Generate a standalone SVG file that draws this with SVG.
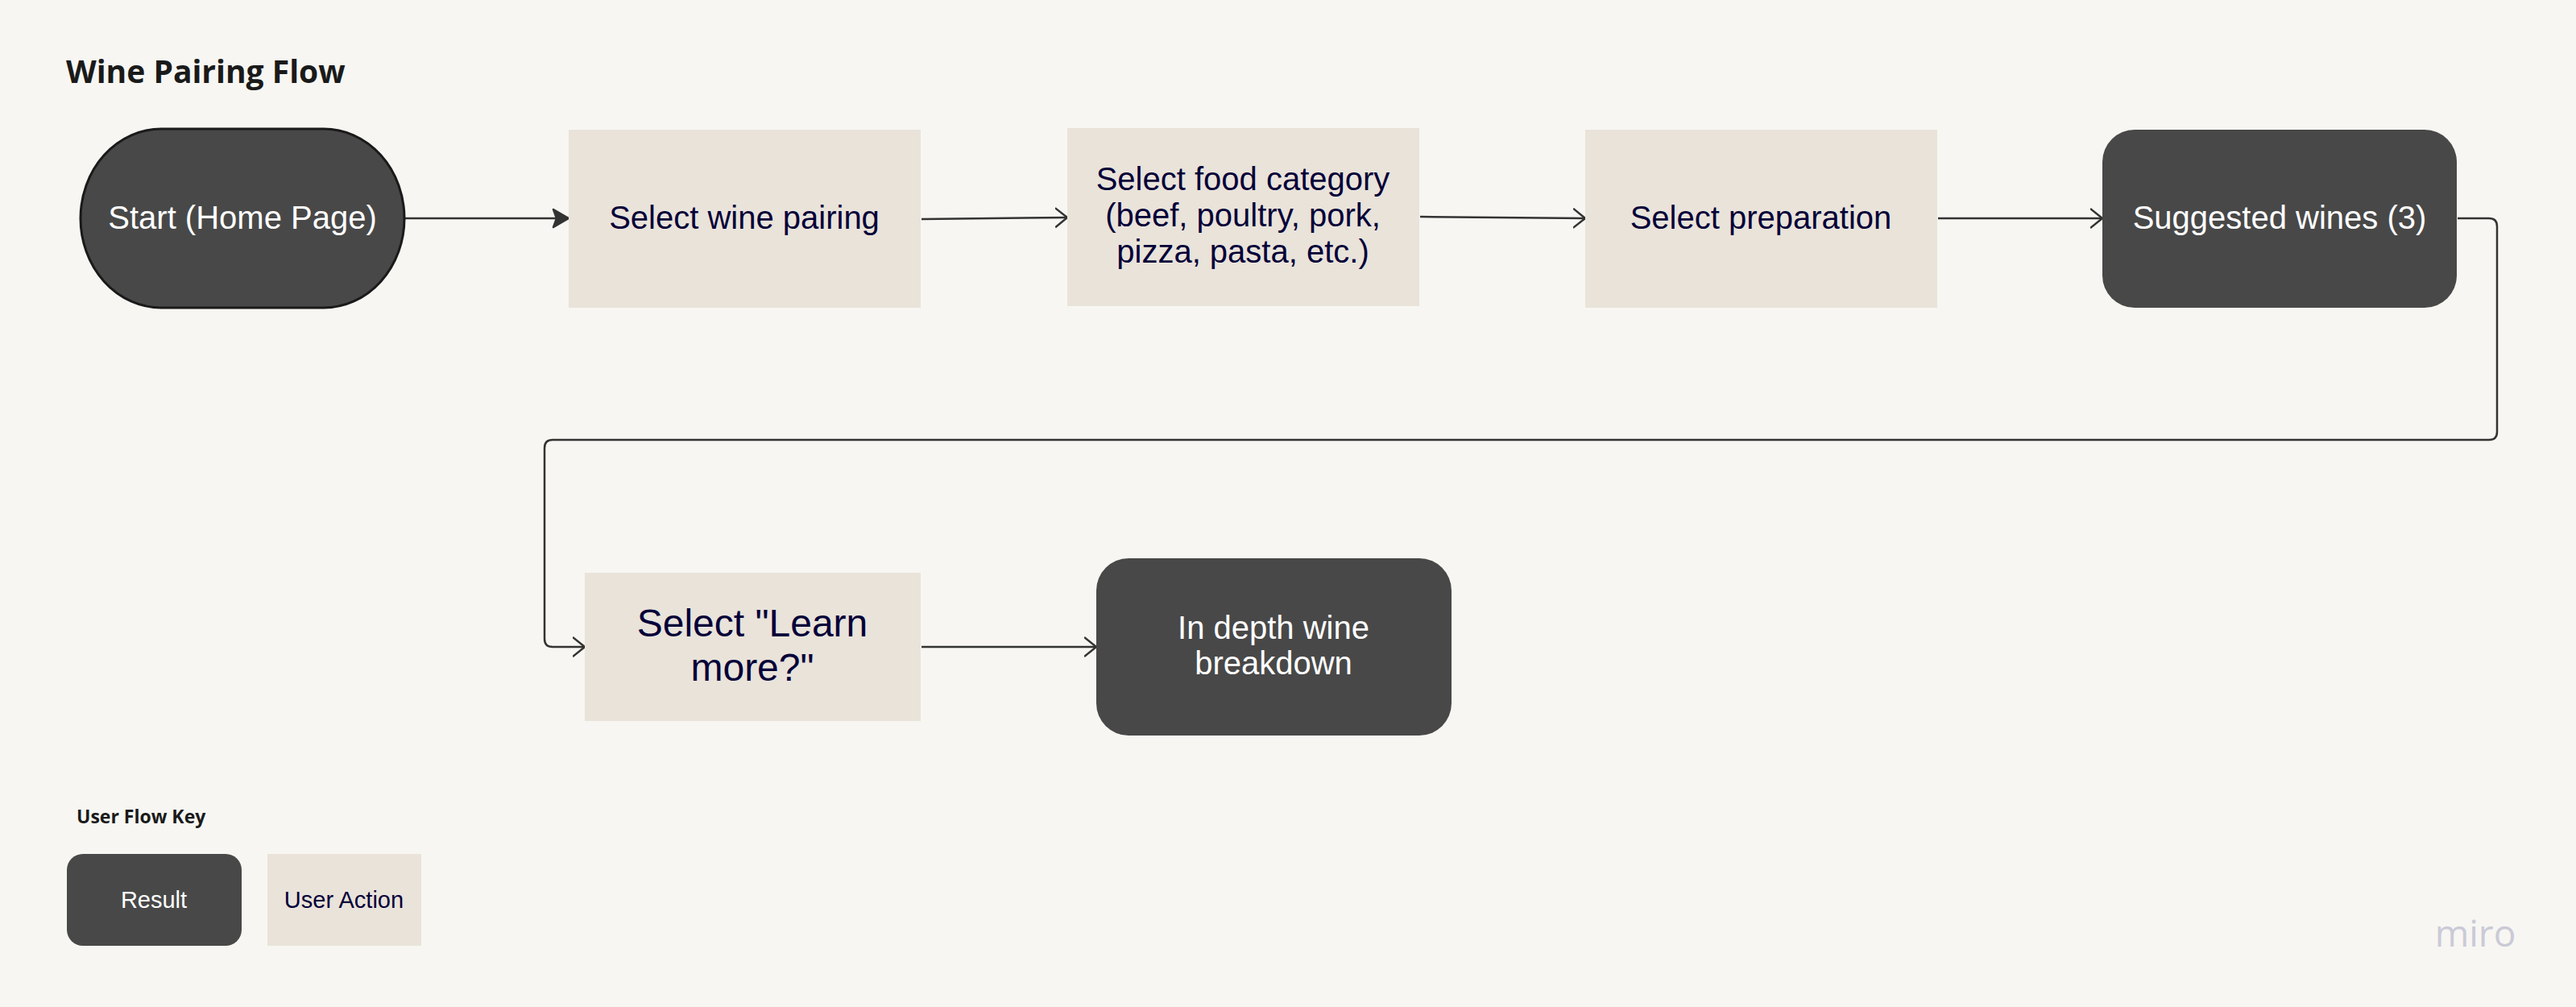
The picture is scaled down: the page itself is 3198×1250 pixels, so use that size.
<svg xmlns="http://www.w3.org/2000/svg" width="3198" height="1250" viewBox="0 0 3198 1250">
<style>
.bg{fill:#f7f6f2}
.result{fill:#484848}
.action{fill:#e9e3da}
.wt{fill:#ffffff;font-family:"Liberation Sans",Arial,sans-serif;font-size:40px;text-anchor:middle}
.nt{fill:#050038;font-family:"Liberation Sans",Arial,sans-serif;font-size:40px;text-anchor:middle}
.big{font-size:48px}
.key{font-size:29px}
.head{fill:#1a1a1a;font-family:"Open Sans","Noto Sans",sans-serif;font-weight:bold}
.conn{fill:none;stroke:#333333;stroke-width:2.5;stroke-linejoin:round}
</style>
<defs>
<marker id="open" markerUnits="userSpaceOnUse" markerWidth="20" markerHeight="28" refX="15" refY="13" orient="auto">
<path d="M0,1 L15,13 L0,25" fill="none" stroke="#333333" stroke-width="2.5" stroke-linejoin="round"/>
</marker>
<marker id="solid" markerUnits="userSpaceOnUse" markerWidth="26" markerHeight="30" refX="22" refY="14" orient="auto">
<path d="M3,3 L22,14 L3,25 L7,14 Z" fill="#333333" stroke="#333333" stroke-width="2.5" stroke-linejoin="round"/>
</marker>
</defs>
<rect class="bg" x="0" y="0" width="3198" height="1250"/>
<text class="head" x="82" y="103" font-size="39">Wine Pairing Flow</text>

<g id="connectors">
<path class="conn" d="M503,271 H706" stroke-width="3" marker-end="url(#solid)"/>
<path class="conn" d="M1144,272 L1325,270" marker-end="url(#open)"/>
<path class="conn" d="M1763,269 L1968,271" marker-end="url(#open)"/>
<path class="conn" d="M2406,271 H2610" marker-end="url(#open)"/>
<path class="conn" d="M3051,271 H3090 Q3100,271 3100,281 V536 Q3100,546 3090,546 H686 Q676,546 676,556 V793 Q676,803 686,803 H726" marker-end="url(#open)"/>
<path class="conn" d="M1144,803 H1361" marker-end="url(#open)"/>
</g>

<g id="start">
<rect class="result" x="100" y="160" width="402" height="222" rx="100" ry="111" stroke="#1a1a1a" stroke-width="3"/>
<text class="wt" x="301" y="284">Start (Home Page)</text>
</g>
<g id="select-wine-pairing">
<rect class="action" x="706" y="161" width="437" height="221"/>
<text class="nt" x="924" y="284">Select wine pairing</text>
</g>
<g id="select-food-category">
<rect class="action" x="1325" y="159" width="437" height="221"/>
<text class="nt" x="1543" y="236">Select food category</text>
<text class="nt" x="1543" y="281">(beef, poultry, pork,</text>
<text class="nt" x="1543" y="326">pizza, pasta, etc.)</text>
</g>
<g id="select-preparation">
<rect class="action" x="1968" y="161" width="437" height="221"/>
<text class="nt" x="2186" y="284">Select preparation</text>
</g>
<g id="suggested-wines">
<rect class="result" x="2610" y="161" width="440" height="221" rx="40" ry="40"/>
<text class="wt" x="2830" y="284">Suggested wines (3)</text>
</g>
<g id="learn-more">
<rect class="action" x="726" y="711" width="417" height="184"/>
<text class="nt big" x="934" y="790">Select "Learn</text>
<text class="nt big" x="934" y="845">more?"</text>
</g>
<g id="in-depth">
<rect class="result" x="1361" y="693" width="441" height="220" rx="40" ry="40"/>
<text class="wt" x="1581" y="793">In depth wine</text>
<text class="wt" x="1581" y="837">breakdown</text>
</g>

<g id="legend">
<text class="head" x="95" y="1022" font-size="23">User Flow Key</text>
<g id="key-result">
<rect class="result" x="83" y="1060" width="217" height="114" rx="20" ry="20"/>
<text class="wt key" x="191" y="1127">Result</text>
</g>
<g id="key-action">
<rect class="action" x="332" y="1060" width="191" height="114"/>
<text class="nt key" x="427" y="1127">User Action</text>
</g>
</g>

<text x="3073" y="1175" fill="#cacad7" font-family="'Open Sans','Noto Sans',sans-serif" font-size="46" font-weight="500" text-anchor="middle">miro</text>
</svg>
